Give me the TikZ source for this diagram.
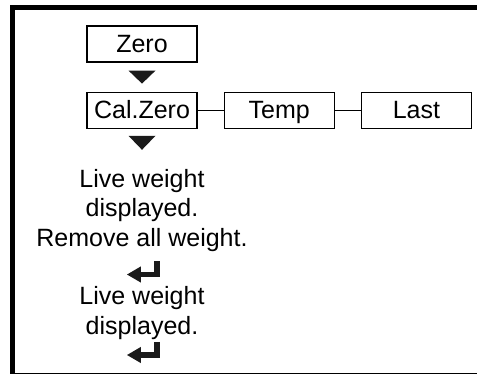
\documentclass[tikz,border=0pt]{standalone}
\usepackage{fontspec}
\setmainfont{Liberation Sans}
\usetikzlibrary{positioning,arrows.meta}
\definecolor{kink}{HTML}{1A1A1A}

\begin{document}
\begin{tikzpicture}[x=1pt, y=-1pt,
  menu/.style={rectangle, draw, line width=1.2pt, text centered, inner sep=0pt,
    font=\fontsize{25}{30}\selectfont, text height=17pt, text depth=0pt,
    minimum width=110pt, minimum height=36pt},
  msg/.style={align=center, inner sep=0pt, font=\fontsize{25}{29.7}\selectfont},
  link/.style={line width=1.2pt},
  retkey/.style={rectangle, inner sep=0pt, minimum width=33pt, minimum height=17pt},
  retarr/.style={-{Triangle[length=14pt, width=15pt]}, line width=5.5pt, color=kink},
  frame/.style={line width=5pt}
]
\useasboundingbox (0,0) rectangle (477,375);
\draw[frame] (10,7.5) -- (477,7.5);
\draw[frame] (12.5,5) -- (12.5,374);
\draw[line width=1.5pt] (10,373.5) -- (477,373.5);

\node[menu] (zero) at (142,44) {Zero};
\node[menu, below=29pt of zero] (cal) {Cal.Zero};
\node[menu, right=26pt of cal] (temp) {Temp};
\node[menu, right=26pt of temp] (last) {Last};

\draw[link] (cal) -- (temp);
\draw[link] (temp) -- (last);

\coordinate[below=14.5pt of zero] (t1);
\coordinate[below=14pt of cal] (t2);
\fill[kink] (t1) ++(-13.5,-6.5) -- ++(27,0) -- ++(-13.5,13) -- cycle;
\fill[kink] (t2) ++(-13.5,-7) -- ++(27,0) -- ++(-13.5,14) -- cycle;

\node[msg, anchor=base] (live1) at (142,246.5) {Live weight\\displayed.\\Remove all weight.};
\node[retkey] (ret1) at (143.5,270) {};
\node[msg, anchor=base] (live2) at (142,334) {Live weight\\displayed.};
\node[retkey] (ret2) at (143.5,350.5) {};

\draw[retarr] ([xshift=-3pt]ret1.north east) |- ([yshift=-4.5pt]ret1.west);
\draw[retarr] ([xshift=-3pt]ret2.north east) |- ([yshift=-4.5pt]ret2.west);
\end{tikzpicture}
\end{document}
